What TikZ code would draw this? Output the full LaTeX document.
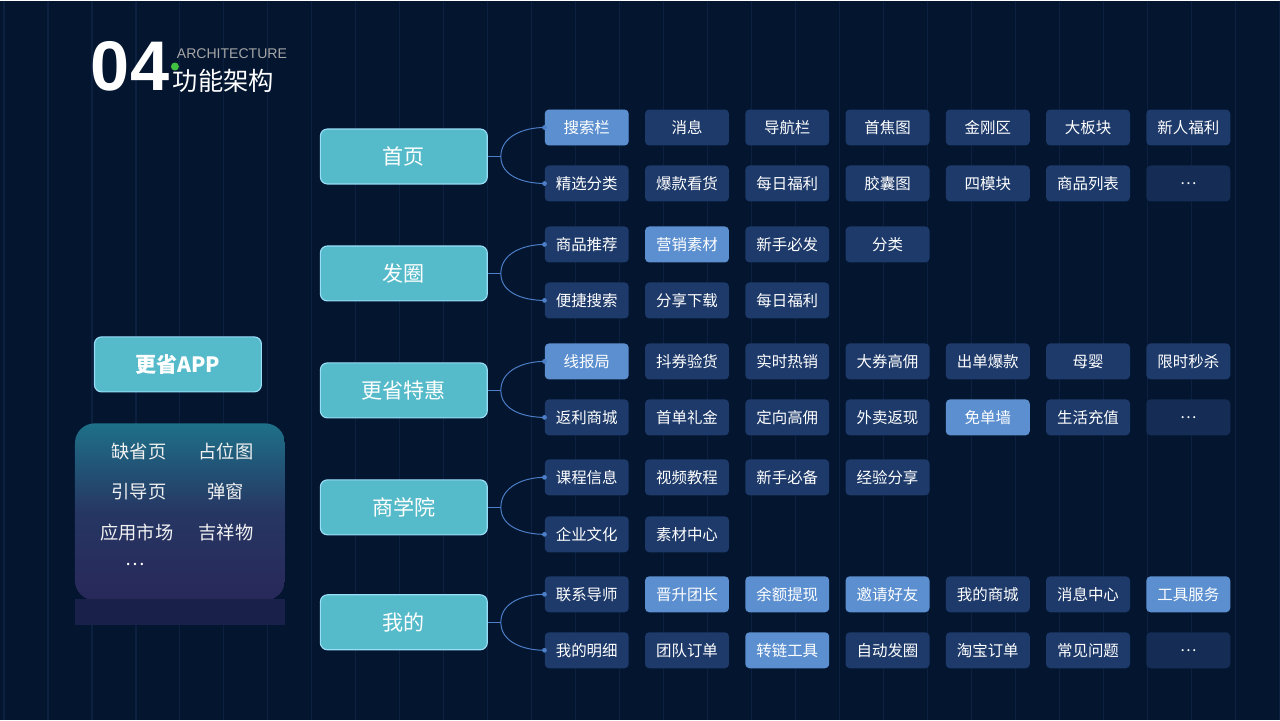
\documentclass[tikz,border=0pt]{standalone}
\usepackage{fontspec}
\setmainfont{Noto Sans CJK SC}
\newfontfamily\latinfont{Liberation Sans}
\definecolor{bgblue}{HTML}{03152F}
\definecolor{gridline}{HTML}{0C2140}
\definecolor{catcyan}{HTML}{55BAC9}
\definecolor{itemblue}{HTML}{1D3A6A}
\definecolor{hiblue}{HTML}{5B8FD0}
\definecolor{moreblue}{HTML}{152D55}
\definecolor{linkblue}{HTML}{4C7FC8}
\definecolor{panelteal}{HTML}{1E7088}
\definecolor{panelpurple}{HTML}{28285A}
\begin{document}
\begin{tikzpicture}[x=0.025cm,y=-0.025cm,
categoria/.style={rectangle,rounded corners=5pt,fill=catcyan,draw=cyan!40!white,line width=0.8pt,
minimum width=167*0.025cm,minimum height=55*0.025cm,text=white,font=\fontsize{15}{15}\selectfont},
item/.style={rectangle,rounded corners=3pt,fill=itemblue,
minimum width=84*0.025cm,minimum height=36*0.025cm,text=white,font=\fontsize{11}{11}\selectfont},
destaque/.style={item,fill=hiblue},
mais/.style={item,fill=moreblue},
ligacao/.style={linkblue,line width=0.7pt},
ponto/.style={circle,fill=linkblue,inner sep=1.2pt}
]
% fundo
\fill[bgblue] (0,0) rectangle (1280,720);
\foreach \i in {0,...,29}
\draw[gridline,line width=0.8pt] (4+44*\i,0) -- (4+44*\i,720);

% titulo
\node[anchor=west,text=white,font=\latinfont\bfseries\fontsize{50}{50}\selectfont] (num) at (86,66) {04};
\node[anchor=west,text=gray!70!white,font=\latinfont\fontsize{10}{10}\selectfont] (arq) at (172,53) {ARCHITECTURE};
\node[anchor=west,text=white,font=\fontsize{18}{18}\selectfont] (tit) at (168,80) {功能架构};
\fill[green!50!gray] (175,66) circle (4);

% lado esquerdo
\node[categoria,font=\fontsize{15}{15}\selectfont\bfseries] (app) at (178,364) {更省APP};
\shade[top color=panelteal,bottom color=panelpurple,middle color=panelpurple!80!panelteal,rounded corners=14pt]
(75,423) rectangle (285,600);
\fill[panelpurple!60!bgblue] (75,599) rectangle (285,625);
\foreach \t/\x/\y in {缺省页/139/451,占位图/226/451,引导页/139/491,弹窗/226/491,应用市场/137/532,吉祥物/226/532}
\node[text=white!90!gray,font=\fontsize{13}{13}\selectfont] at (\x,\y) {\t};
\node[text=white,font=\fontsize{13}{13}\selectfont] (pts) at (135,564) {\dots};

% categorias
\node[categoria] (c1) at (404,156) {首页};
\node[categoria] (c2) at (404,273) {发圈};
\node[categoria] (c3) at (404,390) {更省特惠};
\node[categoria] (c4) at (404,507) {商学院};
\node[categoria] (c5) at (404,622) {我的};

% itens
\foreach \c/\y/\lista in {
c1a/127/{item/搜索栏,item/消息,item/导航栏,item/首焦图,item/金刚区,item/大板块,item/新人福利},
c1b/183/{item/精选分类,item/爆款看货,item/每日福利,item/胶囊图,item/四模块,item/商品列表,mais/\dots},
c2a/244/{item/商品推荐,destaque/营销素材,item/新手必发,item/分类},
c2b/300/{item/便捷搜索,item/分享下载,item/每日福利},
c3a/361/{destaque/线报局,item/抖券验货,item/实时热销,item/大券高佣,item/出单爆款,item/母婴,item/限时秒杀},
c3b/417/{item/返利商城,item/首单礼金,item/定向高佣,item/外卖返现,destaque/免单墙,item/生活充值,mais/\dots},
c4a/477/{item/课程信息,item/视频教程,item/新手必备,item/经验分享},
c4b/534/{item/企业文化,item/素材中心},
c5a/594/{item/联系导师,destaque/晋升团长,destaque/余额提现,destaque/邀请好友,item/我的商城,item/消息中心,destaque/工具服务},
c5b/650/{item/我的明细,item/团队订单,destaque/转链工具,item/自动发圈,item/淘宝订单,item/常见问题,mais/\dots}}
{
\foreach \s/\t [count=\k] in \lista
\node[\s] (\c\k) at (587+100.3*\k-100.3,\y) {\t};
}
% primeira coluna destacada
\node[destaque] at (c1a1) {搜索栏};

% ligacoes
\foreach \c in {c1,c2,c3,c4,c5}{
\coordinate (\c j) at ([xshift=13*0.025cm]\c.east);
\draw[ligacao] (\c.east) -- (\c j);
\draw[ligacao] (\c j) to[out=90,in=180] (\c a1.west);
\draw[ligacao] (\c j) to[out=-90,in=180] (\c b1.west);
\node[ponto] at (\c a1.west) {};
\node[ponto] at (\c b1.west) {};
}
\end{tikzpicture}
\end{document}
